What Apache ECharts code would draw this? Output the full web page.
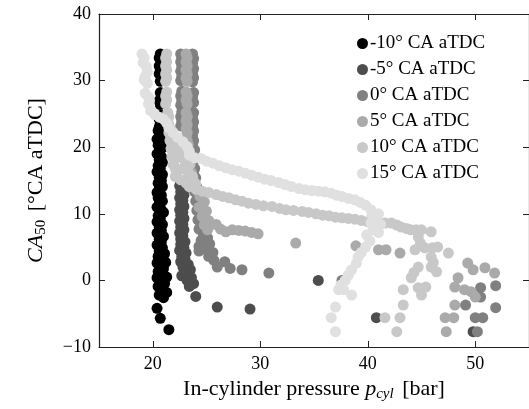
<!DOCTYPE html>
<html>
<head>
<meta charset="utf-8">
<script src="https://cdn.jsdelivr.net/npm/echarts@6/dist/echarts.min.js"></script>
<style>
  html, body { margin: 0; padding: 0; background: #fff; }
  #chart { width: 529px; height: 409px; }
</style>
</head>
<body>
<div id="chart"></div>
<script>
// series names / colours (legend order)
const seriesNames = ['-10° CA aTDC', '-5° CA aTDC', '0° CA aTDC', '5° CA aTDC', '10° CA aTDC', '15° CA aTDC']
const seriesColors = ['#000000', '#4d4d4d', '#808080', '#aaaaaa', '#c8c8c8', '#e0e0e0']
const xTicks = [20, 30, 40, 50]

// [pressure bar, CA50]
const dataM10 = [
  [20.7, 34], [20.6, 33.4], [20.8, 32.8], [20.6, 32.2], [20.7, 31.6], [20.6, 31], [20.8, 30.4], [20.7, 29.9],
  [20.7, 28.2], [20.8, 27.6], [20.6, 27], [20.7, 26.4],
  [20.8, 24.8], [20.6, 24.2], [20.7, 23.6], [20.6, 23],
  [20.5, 22.5], [20.9, 22.1], [20.6, 21.6], [20.4, 21.2], [20.8, 20.8], [20.5, 20.3], [20.9, 19.9],
  [20.6, 19.4], [20.4, 19], [20.8, 18.6], [20.6, 18.1], [20.9, 17.7], [20.5, 17.2], [20.7, 16.8],
  [20.4, 16.3], [20.9, 15.9], [20.6, 15.5], [20.8, 15], [20.5, 14.6], [20.9, 14.1], [20.6, 13.7],
  [20.4, 13.2], [20.8, 12.8], [20.5, 12.4], [20.9, 11.9], [20.6, 11.5], [20.4, 11], [20.8, 10.6],
  [21, 10.2], [20.5, 9.7], [20.7, 9.3], [20.4, 8.8], [20.9, 8.4], [20.6, 8], [20.8, 7.5], [20.4, 7.1],
  [21, 6.6], [20.6, 6.2], [20.8, 5.8], [20.4, 5.3], [20.9, 4.9], [20.6, 4.4], [21.1, 4], [20.5, 3.6],
  [20.8, 3.1], [21.2, 2.7], [20.4, 2.6], [20.7, 2.2], [21, 1.8], [20.5, 1.3], [20.9, 0.9], [21.3, 0.5],
  [20.4, 0.4], [20.7, 0], [21.1, -0.5], [20.5, -0.9], [20.9, -1.3], [21.3, -1.8], [20.6, -2.2], [21, -2.6],
  [20.4, -4.2], [20.7, -5.7], [21.5, -7.4]
]
const dataM5 = [
  [22.6, 15], [22.8, 14.6], [22.5, 14.2], [22.8, 13.7], [22.6, 13.3], [22.9, 12.8], [22.5, 12.4],
  [22.8, 12], [22.6, 11.5], [22.9, 11.1], [22.5, 10.6], [22.8, 10.2], [22.6, 9.8], [22.9, 9.3],
  [22.5, 8.9], [22.8, 8.4], [22.6, 8], [22.9, 7.6], [22.5, 7.1], [22.8, 6.7], [22.6, 6.2], [23, 5.8],
  [22.6, 5.4], [22.9, 4.9], [22.5, 4.5], [23.1, 4.1], [22.7, 3.6], [23, 3.2], [22.6, 2.8], [23.3, 2.4],
  [22.8, 2], [23.5, 1.6], [23, 1.1], [22.7, 0.7], [23.6, 0.4], [23.2, 0], [23.8, -0.5], [23.4, -0.9],
  [24, -2.4], [26, -4], [29.05, -4.3], [35.4, 0], [40.8, -5.6], [49.8, -7.7]
]
const dataP0 = [
  [22.6, 34], [23.7, 34], [22.7, 33.4], [23.8, 33.3], [22.6, 32.8], [23.7, 32.6], [22.7, 32.1], [23.8, 31.8],
  [22.6, 31.4], [23.7, 31.1], [22.7, 30.6], [23.8, 30.4], [22.6, 30], [23.7, 29.8],
  [22.7, 28.4], [23.8, 28.2], [22.6, 27.7], [23.7, 27.5], [22.7, 27], [23.8, 26.7], [22.6, 26.3],
  [22.7, 25.3], [23.8, 25.2], [22.6, 24.6], [23.7, 24.5], [22.7, 23.9], [23.8, 23.8], [22.6, 23.2],
  [23.7, 23.1], [23.8, 22.4], [23.7, 21.7], [23.8, 21], [23.7, 20.3], [23.9, 19.6], [23.7, 18.9],
  [23.9, 18.2], [23.7, 17.5], [23.9, 16.8], [23.8, 16.1], [24, 15.4], [23.8, 14.7], [24.1, 14],
  [23.9, 13.3], [24.2, 12.6], [24, 11.9], [24.3, 11.2], [24.1, 10.5], [24.4, 9.8], [24.2, 9.1],
  [24.5, 8.4], [24.3, 7.7], [24.7, 7], [25.1, 6.4], [24.5, 6], [25.3, 5.5], [24.3, 5.1], [24.9, 4.7],
  [25.6, 4.2], [24.3, 4.4], [25.2, 3.6], [25.7, 3], [26, 2], [26.7, 2.8], [27.2, 1.8], [28.3, 1.6],
  [30.8, 1.1], [37.6, 0],
  [50.5, -1.1], [51.9, -0.8], [51.9, -4.1], [49.1, -3.7], [50, -5.6], [50.7, -5.6], [50.2, -7.7], [50.5, -2.5]
]
const dataP5 = [
  [23.1, 34], [23.2, 33.4], [23.1, 32.8], [23.2, 32.2], [23.1, 31.6], [23.2, 31], [23.1, 30.4], [23.2, 29.9],
  [23.1, 28.3], [23.2, 27.7], [23.1, 27.1], [23.2, 26.5],
  [23.1, 25.2], [23.2, 24.6], [23.1, 24], [23.2, 23.4], [23.1, 22.8], [23.2, 22.2], [23.1, 21.6],
  [23.2, 21], [23.3, 20.4], [23.2, 19.8], [23.3, 19.2], [23.4, 18.6], [23.3, 18], [23.5, 17.4],
  [23.4, 16.8], [23.6, 16.2], [23.5, 15.6], [23.8, 15], [24, 14.2], [24.2, 13.4], [24.4, 12.6],
  [24.8, 11.8], [24.3, 11], [25, 10.4], [24.6, 9.6], [25.2, 9], [24.8, 8.3], [25.5, 8.4], [25.1, 7.6],
  [25.9, 8.4], [26.3, 7.7], [26.8, 7.3], [27.4, 7.6], [28, 7.5], [28.6, 7.4], [29.2, 7.2], [29.8, 7],
  [33.3, 5.6], [38.9, 5.2], [41, 4.6], [41.7, 4.6], [43, 4.1],
  [49.3, 2.6], [49.8, 1.6], [50.9, 1.9], [51.8, 1.1], [48.4, 0.4], [48.1, -1], [49, -1.4], [49.6, -1.7],
  [50, -2.5], [48.1, -3.7], [47.2, -5.6], [48, -5.6], [47.3, -7.7]
]
const dataP10 = [
  [21.3, 34], [21.2, 33.4], [21.3, 32.8], [21.2, 32.2], [21.3, 31.6], [21.2, 31], [21.3, 30.4], [21.2, 29.9],
  [21.3, 28.3], [21.2, 27.7], [21.3, 27.1], [21.2, 26.5],
  [21.4, 25.2], [21.5, 24.6], [21.4, 24], [21.5, 23.4], [21.6, 22.8], [21.5, 22.2], [21.7, 21.6],
  [21.6, 21], [21.8, 20.4], [22.3, 20.5], [21.7, 19.8], [22.7, 19.8], [21.9, 19.2], [23.1, 19.2],
  [21.8, 18.6], [22.5, 18.6], [22, 18], [23, 18], [21.9, 17.4], [23.4, 17.4], [22.1, 16.8], [22.8, 16.8],
  [22.2, 16.2], [23.3, 16.2], [22.1, 15.6], [23.7, 15.6], [22.6, 15.1], [23.1, 14.6], [24, 14.5],
  [23.4, 14.1], [24, 13.7], [24.6, 13.4], [25.2, 13.2], [25.9, 12.9], [26.5, 12.6], [27.1, 12.4],
  [27.7, 12.1], [28.3, 11.9], [28.9, 11.6], [29.6, 11.4], [30.3, 11.2], [31.1, 11.1], [31.8, 10.8],
  [32.4, 10.6], [33.1, 10.5], [33.9, 10.35], [34.5, 10.2], [35.2, 10], [35.8, 9.8], [36.4, 9.7],
  [37, 9.5], [37.6, 9.4], [38.2, 9.3], [38.8, 9.2], [39.4, 9], [40, 8.8], [40.5, 8.7], [41, 8.6],
  [41.6, 8.6], [42.2, 8.6], [42.7, 8.3], [43.1, 8], [43.6, 7.8], [44, 7.6], [44.5, 7.6], [45, 7.6],
  [45.9, 7.3], [44.7, 6.5], [44.9, 5.6], [44.4, 4.6], [45.3, 4.9], [46, 4.9], [46.5, 5], [47.5, 4.1],
  [45.9, 3.5], [46.1, 2.7], [45.9, 2], [46.4, 1.3], [44.7, 2], [44.3, 1.2], [44.05, 0.4], [44.7, -1.1],
  [45.4, -1], [45, -2.2], [43.3, -1.4], [43.3, -3.7], [43, -5.6], [42.7, -7.7], [41.6, -5.6]
]
const dataP15 = [
  [19, 34], [19.2, 33.4], [19.1, 32.7], [19.4, 32.1], [19.5, 31.3], [19.3, 30.6], [19.2, 30.1], [19.5, 29.6],
  [19.3, 28.1], [19.6, 27.5], [19.7, 27], [19.6, 26.5],
  [19.8, 25.5], [20.2, 24.9], [20.6, 24.5], [21, 24.2], [21.3, 23.6], [21.5, 22.9],
  [21.9, 22.2], [22.3, 21.5], [22.8, 20.8], [23.2, 20.1], [23.4, 19.4],
  [23.4, 18.8], [23.9, 18.4], [24.5, 18.3], [25, 17.9], [25.6, 17.6], [26.2, 17.2], [26.8, 16.9],
  [27.4, 16.6], [28, 16.4], [28.6, 16.1], [29.2, 15.8], [29.8, 15.5], [30.4, 15.2], [31, 15],
  [31.7, 14.7], [32.3, 14.4], [32.9, 14.1], [33.6, 13.8], [34.2, 13.6], [34.8, 13.5], [35.4, 13.4],
  [36, 13.3], [36.6, 13.1], [37.1, 12.8], [37.6, 12.6], [38.2, 12.3], [38.8, 12.1], [39.3, 11.7],
  [39.8, 11.3], [40.3, 10.6], [41, 10], [40.4, 9.8], [40.6, 9.2], [41.2, 8.4], [40.3, 8.6], [40.5, 7.6],
  [41, 7.2], [39.9, 6.8], [40.2, 5.9], [39.8, 5], [39.4, 4.2], [39.1, 3.5], [38.95, 2.6], [38.5, 1.6],
  [38.2, 0.8], [37.9, 0], [37.5, -0.7], [37.3, -1.4], [37.75, -1.4], [38.5, -2.2], [37, -4], [36.6, -5.6],
  [37, -7.7]
]

const allData = [dataM10, dataM5, dataP0, dataP5, dataP10, dataP15]
const serif = '"Liberation Serif", "DejaVu Serif", serif'
const minus = (v) => String(v).replace('-', '\u2212')

const frameAxis = {
  axisLine: { show: true, onZero: false, lineStyle: { color: '#222', width: 1.2 } },
  axisTick: { show: true, inside: true, length: 6, lineStyle: { color: '#222' } },
  splitLine: { show: false }
}

const option = {
  animation: false,
  backgroundColor: '#fff',
  grid: { left: 99, top: 14, width: 432, height: 333 },
  legend: {
    orient: 'vertical',
    left: 352,
    top: 29,
    icon: 'circle',
    itemWidth: 11,
    itemHeight: 11,
    itemGap: 7,
    data: seriesNames,
    textStyle: { fontFamily: serif, fontSize: 19, lineHeight: 19, color: '#000', padding: [0, 0, 0, -3] }
  },
  xAxis: [{
    type: 'value', min: 15, max: 55, position: 'bottom',
    ...frameAxis,
    axisTick: { ...frameAxis.axisTick, customValues: xTicks },
    axisLabel: { customValues: xTicks, color: '#000', fontFamily: serif, fontSize: 18, margin: 8 },
    name: 'In-cylinder pressure {it|p}{sub|cyl} [bar]',
    nameLocation: 'middle',
    nameGap: 28,
    nameTextStyle: {
      fontFamily: serif, fontSize: 22, color: '#000',
      rich: {
        it: { fontFamily: serif, fontSize: 22, fontStyle: 'italic', color: '#000' },
        sub: { fontFamily: serif, fontSize: 15, fontStyle: 'italic', color: '#000', padding: [11, 3, 0, 0] }
      }
    }
  }, {
    type: 'value', min: 15, max: 55, position: 'top',
    ...frameAxis,
    axisTick: { ...frameAxis.axisTick, customValues: xTicks },
    axisLabel: { show: false }
  }],
  yAxis: [{
    type: 'value', min: -10, max: 40, interval: 10, position: 'left',
    ...frameAxis,
    axisLabel: { color: '#000', fontFamily: serif, fontSize: 18, margin: 8, formatter: minus },
    name: '{it|CA}{sub|50} [°CA aTDC]',
    nameLocation: 'middle',
    nameGap: 50,
    nameTextStyle: {
      fontFamily: serif, fontSize: 22, color: '#000',
      rich: {
        it: { fontFamily: serif, fontSize: 22, fontStyle: 'italic', color: '#000' },
        sub: { fontFamily: serif, fontSize: 15, color: '#000', padding: [11, 3, 0, 0] }
      }
    }
  }, {
    type: 'value', min: -10, max: 40, interval: 10, position: 'right',
    ...frameAxis,
    axisLabel: { show: false }
  }],
  series: seriesNames.map((name, i) => ({
    name: name,
    type: 'scatter',
    xAxisIndex: 0,
    yAxisIndex: 0,
    symbol: 'circle',
    symbolSize: 11,
    itemStyle: { color: seriesColors[i], opacity: 1 },
    data: allData[i]
  }))
}

const chart = echarts.init(document.getElementById('chart'), null, { renderer: 'canvas' })
chart.setOption(option)
</script>
</body>
</html>
